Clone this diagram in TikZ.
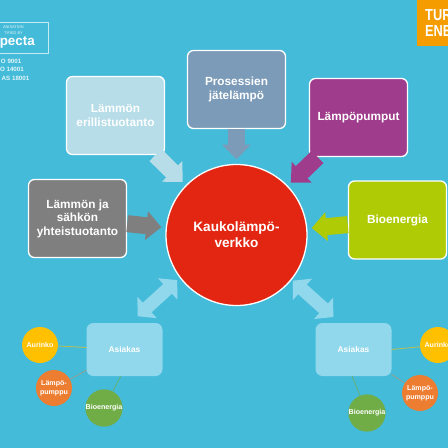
\documentclass[tikz,border=0pt]{standalone}
\usepackage{fontspec}
\setmainfont{Liberation Sans}
\usetikzlibrary{arrows.meta}
\definecolor{bgblue}{HTML}{45BBDA}
\definecolor{paleblue}{HTML}{B6DDE8}
\definecolor{lightblue}{HTML}{92D8EC}
\definecolor{steelbox}{HTML}{7C9BB8}
\definecolor{purplebox}{HTML}{A03C8C}
\definecolor{limebox}{HTML}{AECB06}
\definecolor{graybox}{HTML}{7F7F7F}
\definecolor{redbox}{HTML}{E32612}
\definecolor{sunyellow}{HTML}{FFC000}
\definecolor{pumporange}{HTML}{ED7D31}
\definecolor{biogreen}{HTML}{70AD47}
\definecolor{logoorange}{HTML}{F59C00}
\tikzset{
  sourcebox/.style={draw=white, line width=1.3pt, rounded corners=6pt, inner sep=0pt, outer sep=0pt,
    minimum width=98pt, minimum height=78pt, align=center, text=white, font=\fontsize{11.8pt}{13.5pt}\selectfont\bfseries},
  clientbox/.style={fill=lightblue, rounded corners=7pt, inner sep=0pt, outer sep=0pt,
    minimum width=76pt, minimum height=53pt, text=white, font=\fontsize{8.4pt}{10pt}\selectfont\bfseries},
  smallball/.style={circle, inner sep=0pt, outer sep=0pt, minimum size=36pt, align=center,
    text=white, font=\fontsize{7.1pt}{9pt}\selectfont\bfseries},
  feedarrow/.style={line width=17pt, -{Triangle[length=15pt,width=28pt]}, shorten <=0.7pt, shorten >=5pt},
  twoway/.style={lightblue, line width=13pt, {Triangle[length=13pt,width=28pt]}-{Triangle[length=13pt,width=28pt]}},
  thinlink/.style={line width=0.8pt},
  logotext/.style={text=white!85!bgblue, inner sep=0pt, anchor=east, font=\fontsize{6.2pt}{7pt}\selectfont\bfseries}
}
\begin{document}
\begin{tikzpicture}[x=1pt,y=-1pt]
\useasboundingbox (0,0) rectangle (448,448);
\fill [bgblue] (0,0) rectangle (448,448);
\node [sourcebox, fill=paleblue] (separate) at (115.5,115.5) {L\"amm\"on\\erillistuotanto};
\node [sourcebox, fill=steelbox] (process) at (236.5,89.5) {Prosessien\\j\"atel\"amp\"o};
\node [sourcebox, fill=purplebox] (pumps) at (358.5,117.5) {L\"amp\"opumput};
\node [sourcebox, fill=limebox] (bio) at (397.5,220) {Bioenergia};
\node [sourcebox, fill=graybox] (chp) at (77.5,218.5) {L\"amm\"on ja\\s\"ahk\"on\\yhteistuotanto};
\node [circle, draw=white, line width=1.3pt, fill=redbox, minimum size=141pt, inner sep=0pt, outer sep=0pt, align=center,
  text=white, font=\fontsize{13.6pt}{16pt}\selectfont\bfseries] (net) at (236.5,235) {Kaukol\"amp\"o-\\verkko};
\node [clientbox] (clientL) at (124.5,349.5) {Asiakas};
\node [clientbox] (clientR) at (353.5,349.5) {Asiakas};
\node [smallball, fill=sunyellow] (sunL) at (40,345) {Aurinko};
\node [smallball, fill=pumporange] (pumpL) at (54,388) {L\"amp\"o-\\pumppu};
\node [smallball, fill=biogreen] (bioL) at (104,408) {Bioenergia};
\node [smallball, fill=sunyellow] (sunR) at (438,345) {Aurinko};
\node [smallball, fill=pumporange] (pumpR) at (420,393) {L\"amp\"o-\\pumppu};
\node [smallball, fill=biogreen] (bioR) at (367,413) {Bioenergia};
\draw [feedarrow, paleblue] (separate) -- (net);
\draw [feedarrow, steelbox] (process) -- (net);
\draw [feedarrow, purplebox] (pumps) -- (net);
\draw [feedarrow, limebox] (bio) -- (net);
\draw [feedarrow, graybox] (chp) -- (net);
\draw [twoway, shorten <=10pt, shorten >=4pt] (clientL.78) -- (net.217.5);
\draw [twoway, shorten <=9pt, shorten >=2pt] (clientR.117) -- (net.321);
\draw [thinlink, sunyellow!65!bgblue] (sunL) -- (clientL);
\draw [thinlink, pumporange!45!bgblue] (pumpL) -- (clientL);
\draw [thinlink, biogreen!70!bgblue] (bioL) -- (clientL.-98);
\draw [thinlink, sunyellow!65!bgblue] (sunR) -- (clientR.east);
\draw [thinlink, pumporange!45!bgblue] (pumpR) -- (clientR);
\draw [thinlink, biogreen!70!bgblue] (bioR) -- (clientR.-93);
% logos
\draw [white!70!bgblue, line width=0.8pt] (-5,22) rectangle (48.5,53);
\node [logotext, font=\fontsize{3.9pt}{5pt}\selectfont] (orgline) at (24,27) {ANISATION};
\node [logotext, font=\fontsize{3.9pt}{5pt}\selectfont] (certline) at (23,33) {TIFIED BY};
\node [logotext, text=white, font=\fontsize{13.4pt}{15pt}\selectfont\bfseries] (inspecta) at (35,43) {pecta};
\node [logotext] (iso) at (21.5,61) {O 9001};
\node [logotext] (env) at (24,69) {O 14001};
\node [logotext] (ohsas) at (29.5,78) {AS 18001};
\fill [logoorange] (417,0) rectangle (448,46);
\node [anchor=west, inner sep=0pt, align=left, text=white, font=\fontsize{16pt}{16.5pt}\selectfont\bfseries] (energy) at (425,23)
  {\scalebox{0.8}[1]{TUR}\\\scalebox{0.8}[1]{ENE}};
\end{tikzpicture}
\end{document}
